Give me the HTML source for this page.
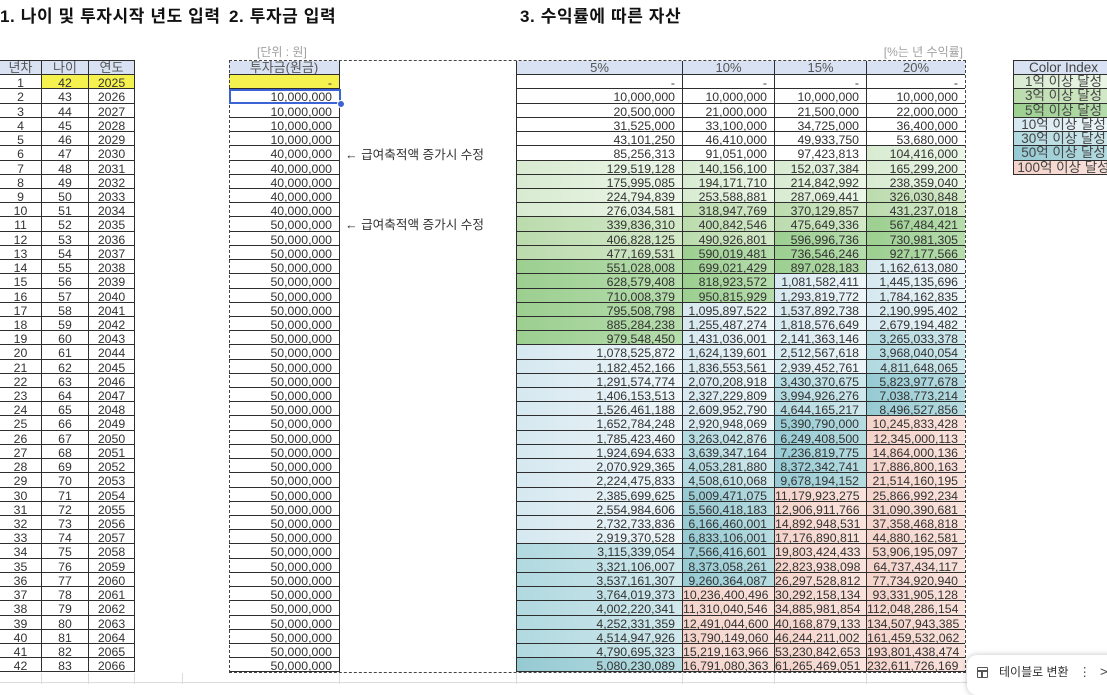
<!DOCTYPE html>
<html><head><meta charset="utf-8">
<style>
html,body{margin:0;padding:0}
body{width:1107px;height:684px;overflow:hidden;background:#fff;position:relative;font-family:"Liberation Sans","Noto Sans CJK KR","NanumGothic",sans-serif;color:#333}
.title{position:absolute;top:7px;font-size:17px;line-height:20px;font-weight:bold;color:#111;letter-spacing:0.6px;white-space:nowrap}
.cap{position:absolute;top:45px;font-size:12px;line-height:14px;color:#a0a0a0;white-space:nowrap}
.g{position:absolute;display:grid;grid-auto-rows:14.23px}
.g>div{box-sizing:border-box;border-right:1px solid #2e2e2e;border-bottom:1px solid #2e2e2e;overflow:hidden;white-space:nowrap;font-size:12.3px;line-height:14px;padding-top:1px;color:#333}
.g>div.h{background:#d9e2f3;color:#555;font-size:13px;text-align:center;padding-top:0;line-height:14px}
#L{left:0;top:60px;border-top:1px solid #2e2e2e;grid-template-columns:42px 47px 46px}
#L>div{text-align:center}
.y{background:#f5f14f}
#I{left:229px;top:61px;grid-template-columns:111px}
#I>div{text-align:right;padding-right:7px}
#R{left:516px;top:61px;border-left:1px solid #2e2e2e;grid-template-columns:166px 92px 92px 98px}
#R>div{text-align:right;padding-right:7px}
#R>div:nth-child(4n){border-right:none}
#R>div.h,#I>div.h{text-align:center;padding-right:0;padding-left:0}
#C{left:1013px;top:61px;border-left:1px solid #2e2e2e;grid-template-columns:100px}
#C>div{text-align:center;font-size:13.5px;color:#444;padding-top:0}
.k1{background:linear-gradient(90deg,#d8ebd1,#ecf6e8)}
.k2{background:linear-gradient(90deg,#bbdbad,#d3e9c8)}
.k3{background:linear-gradient(90deg,#9ccf90,#b6dcac)}
.k4{background:linear-gradient(90deg,#d6e8f0,#eef6f9)}
.k5{background:linear-gradient(90deg,#b1d9e0,#cfe8ec)}
.k6{background:linear-gradient(90deg,#96cad3,#b6dce1)}
.k7{background:linear-gradient(90deg,#f4d3ca,#fae3dd)}
.sel{position:absolute;left:229px;top:60px;width:737px;height:613px;box-sizing:border-box;border:1px dashed #444;pointer-events:none}
.act{position:absolute;left:229px;top:89px;width:112px;height:15px;box-sizing:border-box;border:2px solid #3b63d3}
.dot{position:absolute;left:337px;top:99.5px;width:8px;height:8px;border-radius:50%;background:#3b63d3;border:1px solid #fff;box-sizing:border-box}
.note{position:absolute;left:345px;font-size:12.6px;line-height:14px;color:#333;white-space:nowrap}
.gl{position:absolute;top:673px;height:11px;width:1px;background:#dcdcdc}
.pop{position:absolute;left:967px;top:655px;width:170px;height:40px;background:#fff;border-radius:10px;box-shadow:0 0 6px rgba(0,0,0,0.25)}
</style></head><body>

<div class="title" style="left:0">1. 나이 및 투자시작 년도 입력</div>
<div class="title" style="left:229px">2. 투자금 입력</div>
<div class="title" style="left:520px">3. 수익률에 따른 자산</div>

<div class="cap" style="left:257px">[단위 : 원]</div>
<div class="cap" style="left:870px;width:93px;text-align:right">[%는 년 수익률]</div>

<div class="g" id="L">
<div class="h">년차</div><div class="h">나이</div><div class="h">연도</div>
<div>1</div><div class="y">42</div><div class="y">2025</div>
<div>2</div><div>43</div><div>2026</div>
<div>3</div><div>44</div><div>2027</div>
<div>4</div><div>45</div><div>2028</div>
<div>5</div><div>46</div><div>2029</div>
<div>6</div><div>47</div><div>2030</div>
<div>7</div><div>48</div><div>2031</div>
<div>8</div><div>49</div><div>2032</div>
<div>9</div><div>50</div><div>2033</div>
<div>10</div><div>51</div><div>2034</div>
<div>11</div><div>52</div><div>2035</div>
<div>12</div><div>53</div><div>2036</div>
<div>13</div><div>54</div><div>2037</div>
<div>14</div><div>55</div><div>2038</div>
<div>15</div><div>56</div><div>2039</div>
<div>16</div><div>57</div><div>2040</div>
<div>17</div><div>58</div><div>2041</div>
<div>18</div><div>59</div><div>2042</div>
<div>19</div><div>60</div><div>2043</div>
<div>20</div><div>61</div><div>2044</div>
<div>21</div><div>62</div><div>2045</div>
<div>22</div><div>63</div><div>2046</div>
<div>23</div><div>64</div><div>2047</div>
<div>24</div><div>65</div><div>2048</div>
<div>25</div><div>66</div><div>2049</div>
<div>26</div><div>67</div><div>2050</div>
<div>27</div><div>68</div><div>2051</div>
<div>28</div><div>69</div><div>2052</div>
<div>29</div><div>70</div><div>2053</div>
<div>30</div><div>71</div><div>2054</div>
<div>31</div><div>72</div><div>2055</div>
<div>32</div><div>73</div><div>2056</div>
<div>33</div><div>74</div><div>2057</div>
<div>34</div><div>75</div><div>2058</div>
<div>35</div><div>76</div><div>2059</div>
<div>36</div><div>77</div><div>2060</div>
<div>37</div><div>78</div><div>2061</div>
<div>38</div><div>79</div><div>2062</div>
<div>39</div><div>80</div><div>2063</div>
<div>40</div><div>81</div><div>2064</div>
<div>41</div><div>82</div><div>2065</div>
<div>42</div><div>83</div><div>2066</div>
</div>

<div class="g" id="I">
<div class="h">투자금(원금)</div>
<div class="y">-</div>
<div>10,000,000</div><div>10,000,000</div><div>10,000,000</div><div>10,000,000</div>
<div>40,000,000</div><div>40,000,000</div><div>40,000,000</div><div>40,000,000</div><div>40,000,000</div>
<div>50,000,000</div><div>50,000,000</div><div>50,000,000</div><div>50,000,000</div><div>50,000,000</div>
<div>50,000,000</div><div>50,000,000</div><div>50,000,000</div><div>50,000,000</div><div>50,000,000</div>
<div>50,000,000</div><div>50,000,000</div><div>50,000,000</div><div>50,000,000</div><div>50,000,000</div>
<div>50,000,000</div><div>50,000,000</div><div>50,000,000</div><div>50,000,000</div><div>50,000,000</div>
<div>50,000,000</div><div>50,000,000</div><div>50,000,000</div><div>50,000,000</div><div>50,000,000</div>
<div>50,000,000</div><div>50,000,000</div><div>50,000,000</div><div>50,000,000</div><div>50,000,000</div>
<div>50,000,000</div><div>50,000,000</div>
</div>

<div class="note" style="top:148px">← 급여축적액 증가시 수정</div>
<div class="note" style="top:218px">← 급여축적액 증가시 수정</div>

<div class="g" id="R">
<div class="h">5%</div><div class="h">10%</div><div class="h">15%</div><div class="h">20%</div>
<div>-</div><div>-</div><div>-</div><div>-</div>
<div>10,000,000</div><div>10,000,000</div><div>10,000,000</div><div>10,000,000</div>
<div>20,500,000</div><div>21,000,000</div><div>21,500,000</div><div>22,000,000</div>
<div>31,525,000</div><div>33,100,000</div><div>34,725,000</div><div>36,400,000</div>
<div>43,101,250</div><div>46,410,000</div><div>49,933,750</div><div>53,680,000</div>
<div>85,256,313</div><div>91,051,000</div><div>97,423,813</div><div class="k1">104,416,000</div>
<div class="k1">129,519,128</div><div class="k1">140,156,100</div><div class="k1">152,037,384</div><div class="k1">165,299,200</div>
<div class="k1">175,995,085</div><div class="k1">194,171,710</div><div class="k1">214,842,992</div><div class="k1">238,359,040</div>
<div class="k1">224,794,839</div><div class="k1">253,588,881</div><div class="k1">287,069,441</div><div class="k2">326,030,848</div>
<div class="k1">276,034,581</div><div class="k2">318,947,769</div><div class="k2">370,129,857</div><div class="k2">431,237,018</div>
<div class="k2">339,836,310</div><div class="k2">400,842,546</div><div class="k2">475,649,336</div><div class="k3">567,484,421</div>
<div class="k2">406,828,125</div><div class="k2">490,926,801</div><div class="k3">596,996,736</div><div class="k3">730,981,305</div>
<div class="k2">477,169,531</div><div class="k3">590,019,481</div><div class="k3">736,546,246</div><div class="k3">927,177,566</div>
<div class="k3">551,028,008</div><div class="k3">699,021,429</div><div class="k3">897,028,183</div><div class="k4">1,162,613,080</div>
<div class="k3">628,579,408</div><div class="k3">818,923,572</div><div class="k4">1,081,582,411</div><div class="k4">1,445,135,696</div>
<div class="k3">710,008,379</div><div class="k3">950,815,929</div><div class="k4">1,293,819,772</div><div class="k4">1,784,162,835</div>
<div class="k3">795,508,798</div><div class="k4">1,095,897,522</div><div class="k4">1,537,892,738</div><div class="k4">2,190,995,402</div>
<div class="k3">885,284,238</div><div class="k4">1,255,487,274</div><div class="k4">1,818,576,649</div><div class="k4">2,679,194,482</div>
<div class="k3">979,548,450</div><div class="k4">1,431,036,001</div><div class="k4">2,141,363,146</div><div class="k5">3,265,033,378</div>
<div class="k4">1,078,525,872</div><div class="k4">1,624,139,601</div><div class="k4">2,512,567,618</div><div class="k5">3,968,040,054</div>
<div class="k4">1,182,452,166</div><div class="k4">1,836,553,561</div><div class="k4">2,939,452,761</div><div class="k5">4,811,648,065</div>
<div class="k4">1,291,574,774</div><div class="k4">2,070,208,918</div><div class="k5">3,430,370,675</div><div class="k6">5,823,977,678</div>
<div class="k4">1,406,153,513</div><div class="k4">2,327,229,809</div><div class="k5">3,994,926,276</div><div class="k6">7,038,773,214</div>
<div class="k4">1,526,461,188</div><div class="k4">2,609,952,790</div><div class="k5">4,644,165,217</div><div class="k6">8,496,527,856</div>
<div class="k4">1,652,784,248</div><div class="k4">2,920,948,069</div><div class="k6">5,390,790,000</div><div class="k7">10,245,833,428</div>
<div class="k4">1,785,423,460</div><div class="k5">3,263,042,876</div><div class="k6">6,249,408,500</div><div class="k7">12,345,000,113</div>
<div class="k4">1,924,694,633</div><div class="k5">3,639,347,164</div><div class="k6">7,236,819,775</div><div class="k7">14,864,000,136</div>
<div class="k4">2,070,929,365</div><div class="k5">4,053,281,880</div><div class="k6">8,372,342,741</div><div class="k7">17,886,800,163</div>
<div class="k4">2,224,475,833</div><div class="k5">4,508,610,068</div><div class="k6">9,678,194,152</div><div class="k7">21,514,160,195</div>
<div class="k4">2,385,699,625</div><div class="k6">5,009,471,075</div><div class="k7">11,179,923,275</div><div class="k7">25,866,992,234</div>
<div class="k4">2,554,984,606</div><div class="k6">5,560,418,183</div><div class="k7">12,906,911,766</div><div class="k7">31,090,390,681</div>
<div class="k4">2,732,733,836</div><div class="k6">6,166,460,001</div><div class="k7">14,892,948,531</div><div class="k7">37,358,468,818</div>
<div class="k4">2,919,370,528</div><div class="k6">6,833,106,001</div><div class="k7">17,176,890,811</div><div class="k7">44,880,162,581</div>
<div class="k5">3,115,339,054</div><div class="k6">7,566,416,601</div><div class="k7">19,803,424,433</div><div class="k7">53,906,195,097</div>
<div class="k5">3,321,106,007</div><div class="k6">8,373,058,261</div><div class="k7">22,823,938,098</div><div class="k7">64,737,434,117</div>
<div class="k5">3,537,161,307</div><div class="k6">9,260,364,087</div><div class="k7">26,297,528,812</div><div class="k7">77,734,920,940</div>
<div class="k5">3,764,019,373</div><div class="k7">10,236,400,496</div><div class="k7">30,292,158,134</div><div class="k7">93,331,905,128</div>
<div class="k5">4,002,220,341</div><div class="k7">11,310,040,546</div><div class="k7">34,885,981,854</div><div class="k7">112,048,286,154</div>
<div class="k5">4,252,331,359</div><div class="k7">12,491,044,600</div><div class="k7">40,168,879,133</div><div class="k7">134,507,943,385</div>
<div class="k5">4,514,947,926</div><div class="k7">13,790,149,060</div><div class="k7">46,244,211,002</div><div class="k7">161,459,532,062</div>
<div class="k5">4,790,695,323</div><div class="k7">15,219,163,966</div><div class="k7">53,230,842,653</div><div class="k7">193,801,438,474</div>
<div class="k6">5,080,230,089</div><div class="k7">16,791,080,363</div><div class="k7">61,265,469,051</div><div class="k7">232,611,726,169</div>
</div>

<div class="g" id="C" style="border-top:1px solid #2e2e2e;top:60px">
<div class="h" style="color:#444;font-size:13.5px">Color Index</div>
<div class="k1">1억 이상 달성</div>
<div class="k2">3억 이상 달성</div>
<div class="k3">5억 이상 달성</div>
<div class="k4">10억 이상 달성</div>
<div class="k5">30억 이상 달성</div>
<div class="k6">50억 이상 달성</div>
<div class="k7">100억 이상 달성</div>
</div>

<div class="sel"></div>
<div class="act"></div>
<div class="dot"></div>

<div class="gl" style="left:41px"></div>
<div class="gl" style="left:88px"></div>
<div class="gl" style="left:134px"></div>
<div class="gl" style="left:182px"></div>
<div class="gl" style="left:339px"></div>
<div class="gl" style="left:516px"></div>
<div class="gl" style="left:682px"></div>
<div class="gl" style="left:774px"></div>
<div class="gl" style="left:866px"></div>
<div style="position:absolute;left:0;top:682px;width:1107px;height:1px;background:#dcdcdc"></div>

<div class="pop">
  <div style="position:absolute;left:10px;top:12px;width:11px;height:11px;box-sizing:border-box;border:1.5px solid #555;border-radius:1px"></div>
  <div style="position:absolute;left:10px;top:15px;width:11px;height:1.5px;background:#555"></div>
  <div style="position:absolute;left:14px;top:15px;width:1.5px;height:7px;background:#555"></div>
  <div style="position:absolute;left:32px;top:10px;font-size:12px;line-height:14px;color:#333;white-space:nowrap">테이블로 변환</div>
  <div style="position:absolute;left:111px;top:9px;font-size:14px;line-height:16px;color:#444;font-weight:bold">⋮</div>
  <div style="position:absolute;left:133px;top:9px;font-size:13px;line-height:16px;color:#444">&gt;</div>
</div>

</body></html>
